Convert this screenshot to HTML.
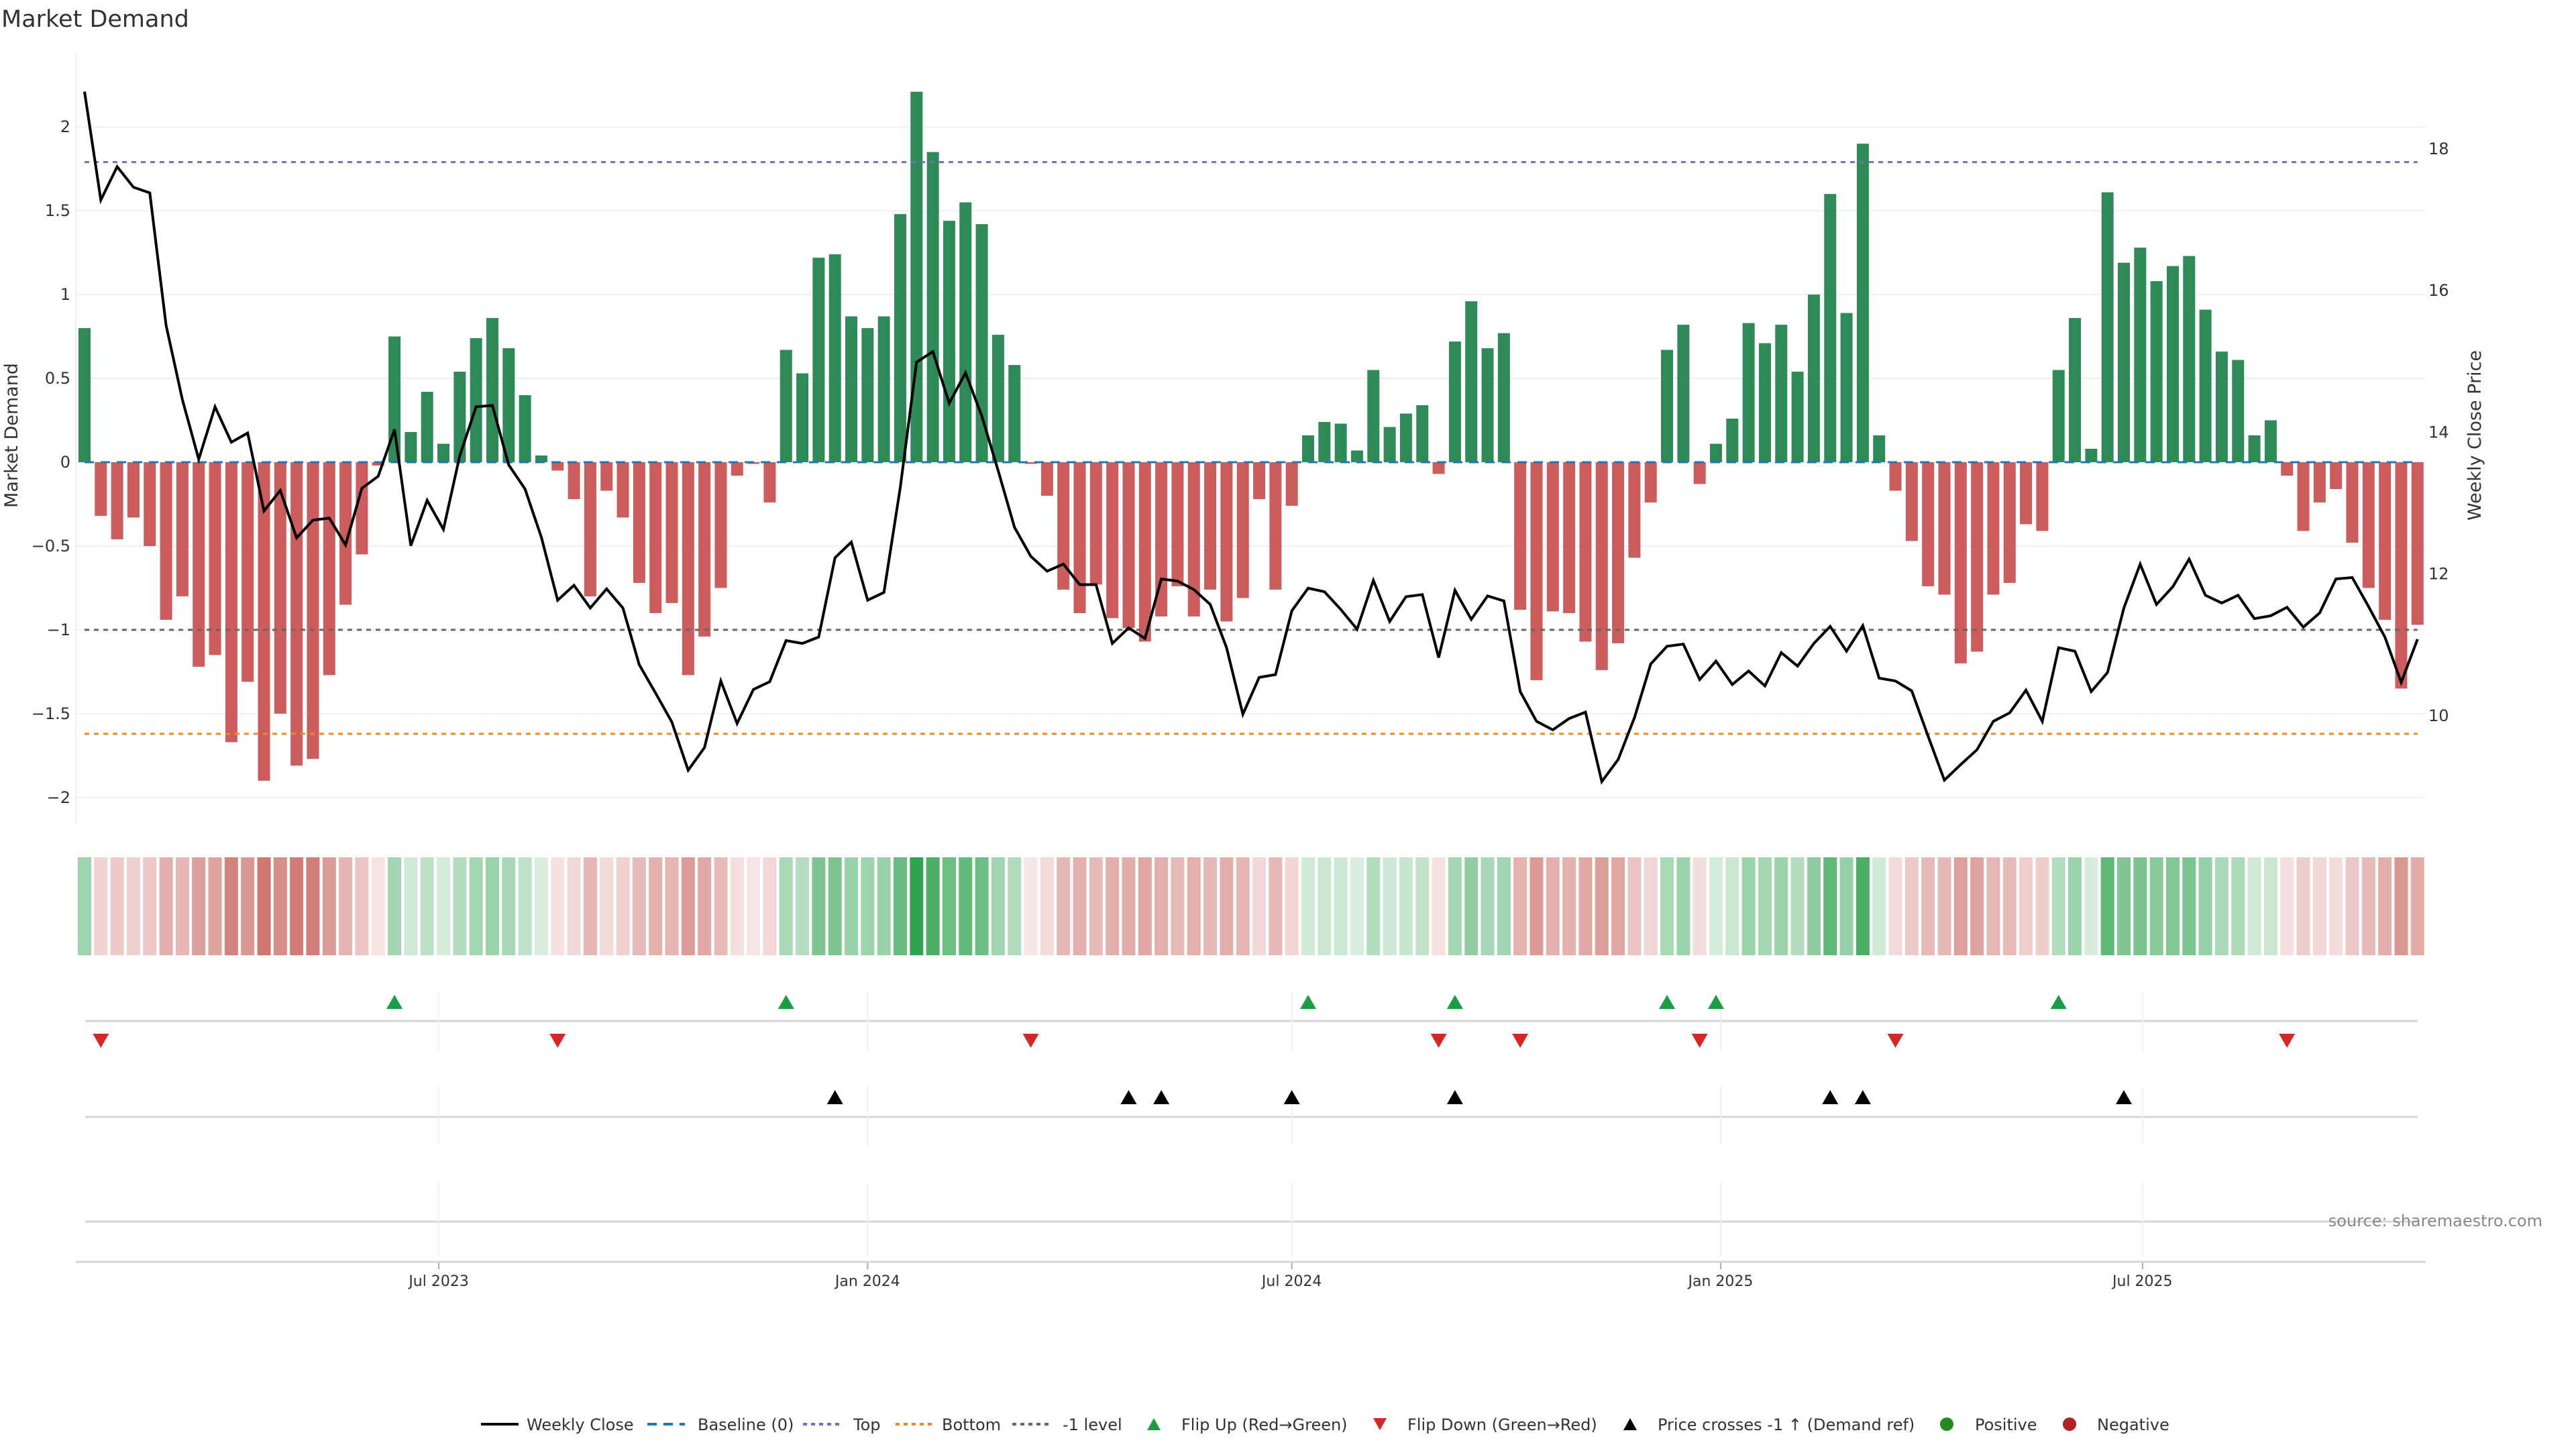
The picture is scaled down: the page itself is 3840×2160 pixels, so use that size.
<!DOCTYPE html>
<html><head><meta charset="utf-8"><style>
html,body{margin:0;padding:0;background:#fff;}
svg{display:block;font-family:"DejaVu Sans","Liberation Sans",sans-serif;}
</style></head><body>
<svg id="chart" width="3840" height="2160" viewBox="0 0 3840 2160" xmlns="http://www.w3.org/2000/svg">
<rect width="3840" height="2160" fill="#fff"/>
<text x="2" y="40" font-size="35" fill="#333">Market Demand</text>
<g id="grid"></g><g id="bars"></g><g id="refs"></g><g id="line"></g><g id="heat"></g><g id="markers"></g><g id="axes"></g>
<text x="3790" y="1828" font-size="24" fill="#888" text-anchor="end">source: sharemaestro.com</text>
<g id="legend"></g>
</svg>
<script>
const startDate = "2023-01-30";
const demand = [0.80,-0.32,-0.46,-0.33,-0.50,-0.94,-0.80,-1.22,-1.15,-1.67,-1.31,-1.90,-1.50,-1.81,-1.77,-1.27,-0.85,-0.55,-0.02,0.75,
0.18,0.42,0.11,0.54,0.74,0.86,0.68,0.40,0.04,-0.05,-0.22,-0.80,-0.17,-0.33,-0.72,-0.90,-0.84,-1.27,-1.04,-0.75,
-0.08,-0.01,-0.24,0.67,0.53,1.22,1.24,0.87,0.80,0.87,1.48,2.21,1.85,1.44,1.55,1.42,0.76,0.58,-0.01,-0.20,
-0.76,-0.90,-0.73,-0.93,-0.99,-1.07,-0.92,-0.74,-0.92,-0.76,-0.95,-0.81,-0.22,-0.76,-0.26,0.16,0.24,0.23,0.07,0.55,
0.21,0.29,0.34,-0.07,0.72,0.96,0.68,0.77,-0.88,-1.30,-0.89,-0.90,-1.07,-1.24,-1.08,-0.57,-0.24,0.67,0.82,-0.13,
0.11,0.26,0.83,0.71,0.82,0.54,1.00,1.60,0.89,1.90,0.16,-0.17,-0.47,-0.74,-0.79,-1.20,-1.13,-0.79,-0.72,-0.37,
-0.41,0.55,0.86,0.08,1.61,1.19,1.28,1.08,1.17,1.23,0.91,0.66,0.61,0.16,0.25,-0.08,-0.41,-0.24,-0.16,-0.48,
-0.75,-0.94,-1.35,-0.97];
const price = [18.80,17.27,17.74,17.45,17.37,15.50,14.45,13.61,14.35,13.85,13.98,12.88,13.17,12.50,12.75,12.78,12.40,13.20,13.37,14.03,
12.39,13.03,12.62,13.66,14.35,14.37,13.53,13.19,12.51,11.62,11.83,11.51,11.78,11.51,10.71,10.31,9.90,9.22,9.54,10.48,
9.88,10.36,10.47,11.05,11.01,11.10,12.22,12.44,11.62,11.73,13.21,14.98,15.13,14.40,14.83,14.22,13.45,12.65,12.24,12.03,
12.13,11.84,11.84,11.01,11.23,11.08,11.92,11.89,11.77,11.56,10.95,10.01,10.53,10.57,11.47,11.79,11.74,11.49,11.21,11.90,
11.32,11.67,11.70,10.81,11.76,11.35,11.68,11.61,10.33,9.91,9.79,9.95,10.04,9.06,9.37,9.96,10.72,10.97,11.00,10.50,
10.76,10.43,10.62,10.41,10.88,10.69,11.01,11.25,10.90,11.26,10.52,10.48,10.34,9.70,9.08,9.30,9.51,9.91,10.03,10.35,
9.91,10.95,10.90,10.33,10.60,11.51,12.13,11.56,11.81,12.20,11.69,11.58,11.69,11.36,11.40,11.52,11.24,11.44,11.92,11.94,
11.53,11.10,10.46,11.07];
const levelTop = 1.79, levelBottom = -1.62, levelMinus1 = -1;
const leftTicks = [2,1.5,1,0.5,0,-0.5,-1,-1.5,-2];
const rightTicks = [10,12,14,16,18];
const dateTicks = ["2023-07-01","2024-01-01","2024-07-01","2025-01-01","2025-07-01"];
const dateTickLabels = ["Jul 2023","Jan 2024","Jul 2024","Jan 2025","Jul 2025"];

const NS="http://www.w3.org/2000/svg";
const X0=126, STEP=24.32, PL=113, PR=3615;
const xi=i=>X0+i*STEP;
const yv=v=>689-249.9*v;
const yp=p=>221+(18-p)*105.6;
const msDay=86400000, t0=Date.parse(startDate);
const xd=d=>X0+(Date.parse(d)-t0)/msDay/7*STEP;
function mk(tag,attrs,parent){const e=document.createElementNS(NS,tag);for(const k in attrs)e.setAttribute(k,attrs[k]);document.getElementById(parent).appendChild(e);return e;}
const fmt=v=>(v<0?"\u2212":"")+Math.abs(v);

leftTicks.forEach(t=>{
  const g=mk('line',{x1:PL,x2:PR,y1:yv(t),y2:yv(t),stroke:'#eef0f3','stroke-width':2},'grid');
  
  
  const l=mk('text',{x:105,y:yv(t)+8,'font-size':24,fill:'#333','text-anchor':'end'},'axes');
  l.textContent=fmt(t);
  
  
});
rightTicks.forEach(t=>{
  const l=mk('text',{x:3620,y:yp(t)+9,'font-size':24,fill:'#333'},'axes');
  l.textContent=t;
  
  
});
let sp=mk('line',{x1:PL,x2:PL,y1:80,y2:1230,stroke:'#eef0f3','stroke-width':2},'grid');


let at=mk('text',{x:0,y:0,'font-size':27,fill:'#333','text-anchor':'middle',transform:'translate(26,649) rotate(-90)'},'axes');
at.textContent='Market Demand';


let at2=mk('text',{x:0,y:0,'font-size':27,fill:'#333','text-anchor':'middle',transform:'translate(3698,649) rotate(-90)'},'axes');
at2.textContent='Weekly Close Price';



demand.forEach((v,i)=>{
  const y1=yv(Math.max(v,0)), y2=yv(Math.min(v,0));
  const b=mk('rect',{x:xi(i)-9,y:y1,width:18,height:Math.max(y2-y1,0.5),fill:v>0?'#2e8b57':'#cd5c5c'},'bars');
  
  
});
[[0,'#1f77b4','14,10',3,'baseline-line'],[levelTop,'#7b68c8','7,7',3,'top-line'],[levelBottom,'#f08a24','7,7',3,'bottom-line'],[levelMinus1,'#666','7,7',3,'minus1-line']].forEach(r=>{
  const l=mk('line',{x1:X0,x2:xi(demand.length-1),y1:yv(r[0]),y2:yv(r[0]),stroke:r[1],'stroke-dasharray':r[2],'stroke-width':r[3]},'refs');
  
  
});
const pl=mk('polyline',{points:price.map((p,i)=>xi(i)+','+yp(p)).join(' '),fill:'none',stroke:'#000','stroke-width':4,'stroke-linejoin':'miter'},'line');


const maxAbs=Math.max(...demand.map(Math.abs));
demand.forEach((v,i)=>{
  const a=0.15+0.75*Math.abs(v)/maxAbs;
  const base=v>0?[26,153,60]:[195,84,76];
  const c=base.map(ch=>Math.round(255-(255-ch)*a));
  const r=mk('rect',{x:xi(i)-10,y:1278,width:20,height:146,fill:`rgb(${c.join(',')})`},'heat');
  
  
});
[[1522],[1665],[1821]].forEach(r=>{
  const l=mk('line',{x1:127,x2:3604,y1:r[0],y2:r[0],stroke:'#d6d6d6','stroke-width':3},'markers');
  
  
});
dateTicks.forEach((d,k)=>{
  const x=xd(d);
  [[1478,1567],[1620,1707],[1763,1873]].forEach(s=>{
    const l=mk('line',{x1:x,x2:x,y1:s[0],y2:s[1],stroke:'#eef0f3','stroke-width':2},'markers');
    
    
  });
  const tk=mk('line',{x1:x,x2:x,y1:1881,y2:1892,stroke:'#aaa','stroke-width':2},'axes');
  
  
  const t=mk('text',{x:x,y:1917,'font-size':22,fill:'#333','text-anchor':'middle'},'axes');
  t.textContent=dateTickLabels[k];
  
  
});
const ax=mk('line',{x1:PL,x2:3616,y1:1881,y2:1881,stroke:'#d6d6d6','stroke-width':3},'axes');


function tri(x,y,up,color,name){
  const pts=up?`${x-12},${y+10} ${x+12},${y+10} ${x},${y-11}`:`${x-12},${y-10} ${x+12},${y-10} ${x},${y+11}`;
  const p=mk('polygon',{points:pts,fill:color},'markers');
  
  
}
const priceRef=11.19;
for(let i=1;i<demand.length;i++){
  if(demand[i-1]<=0&&demand[i]>0) tri(xi(i),1494,true,'#1a9e45','flip-up-marker');
  if(demand[i-1]>0&&demand[i]<=0) tri(xi(i),1551,false,'#d62728','flip-down-marker');
  if(price[i-1]<priceRef&&price[i]>=priceRef) tri(xi(i),1636,true,'#000','price-cross-marker');
}
function lg(parent,tag,attrs,name){const e=mk(tag,attrs,parent);return e;}
const LY=2123;
const items=[
 ['line',717,'#000',null,'Weekly Close',785],
 ['line',965,'#1f77b4','14,10','Baseline (0)',1040],
 ['line',1197,'#7b68c8','6,6','Top',1272],
 ['line',1335,'#f08a24','6,6','Bottom',1404],
 ['line',1509,'#666','6,6','-1 level',1584],
 ['up',1720,'#1a9e45',null,'Flip Up (Red\u2192Green)',1761],
 ['down',2057,'#d62728',null,'Flip Down (Green\u2192Red)',2098],
 ['up',2430,'#000',null,'Price crosses -1 \u2191 (Demand ref)',2471],
 ['dot',2902,'#228b22',null,'Positive',2944],
 ['dot',3085,'#b22222',null,'Negative',3126]];
items.forEach(it=>{
  const g=mk('g',{},'legend');
  
  
  const id='lg'+it[1];g.id=id;
  if(it[0]==='line'){const a={x1:it[1],x2:it[1]+56,y1:LY,y2:LY,stroke:it[2],'stroke-width':4};if(it[3])a['stroke-dasharray']=it[3];lg(id,'line',a,'legend-swatch');}
  else if(it[0]==='up'){lg(id,'polygon',{points:`${it[1]-10},${LY+9} ${it[1]+10},${LY+9} ${it[1]},${LY-9}`,fill:it[2]},'legend-swatch');}
  else if(it[0]==='down'){lg(id,'polygon',{points:`${it[1]-10},${LY-9} ${it[1]+10},${LY-9} ${it[1]},${LY+9}`,fill:it[2]},'legend-swatch');}
  else {lg(id,'circle',{cx:it[1],cy:LY,r:10,fill:it[2]},'legend-swatch');}
  const t=lg(id,'text',{x:it[5],y:LY+9,'font-size':24,fill:'#333'},'legend-label');
  t.textContent=it[4];
});
</script>
</body></html>
